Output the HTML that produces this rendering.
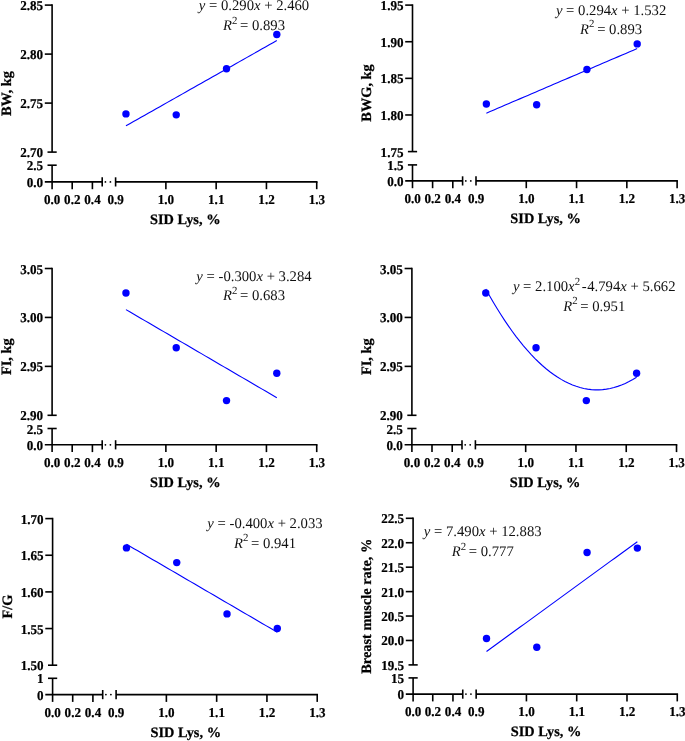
<!DOCTYPE html>
<html><head><meta charset="utf-8"><title>Figure</title>
<style>
html,body{margin:0;padding:0;background:#fff;}
svg{display:block;will-change:transform;text-rendering:geometricPrecision;font-family:"Liberation Serif",serif;}
.ax{stroke:#000;stroke-width:1.6;fill:none;}
.tk{font-weight:bold;font-size:13.5px;fill:#000;stroke:#000;stroke-width:0.22px;}
.tl{font-weight:bold;font-size:14.35px;fill:#000;stroke:#000;stroke-width:0.25px;}
.eq{font-size:14.7px;fill:#111;}
.it{font-style:italic;}
</style></head><body>
<svg width="685" height="741" viewBox="0 0 685 741">
<rect width="685" height="741" fill="#fff"/>
<path d="M52.1 4.3 V152.1" class="ax"/>
<path d="M44.800000000000004 5.1 H52.1" class="ax"/>
<text transform="translate(43.10 10.10) scale(0.97 1)" class="tk" text-anchor="end">2.85</text>
<path d="M44.800000000000004 54.1 H52.1" class="ax"/>
<text transform="translate(43.10 59.10) scale(0.97 1)" class="tk" text-anchor="end">2.80</text>
<path d="M44.800000000000004 103.1 H52.1" class="ax"/>
<text transform="translate(43.10 108.10) scale(0.97 1)" class="tk" text-anchor="end">2.75</text>
<path d="M47.5 152.1 H56.7" class="ax"/>
<text transform="translate(43.10 157.10) scale(0.97 1)" class="tk" text-anchor="end">2.70</text>
<path d="M52.1 165.2 V189.20000000000002" class="ax"/>
<path d="M47.5 165.2 H56.7" class="ax"/>
<text transform="translate(43.10 170.20) scale(0.97 1)" class="tk" text-anchor="end">2.5</text>
<text transform="translate(43.10 186.90) scale(0.97 1)" class="tk" text-anchor="end">0.0</text>
<path d="M44.800000000000004 181.9 H102.2" class="ax"/>
<path d="M72.2 181.9 V189.20000000000002" class="ax"/>
<path d="M92.4 181.9 V189.20000000000002" class="ax"/>
<path d="M102.2 177.3 V186.5" class="ax"/>
<path d="M115.6 177.3 V186.5" class="ax"/>
<circle cx="105.4" cy="181.9" r="0.9" fill="#000"/>
<circle cx="110.4" cy="181.9" r="0.9" fill="#000"/>
<path d="M115.6 181.9 H317.52000000000004" class="ax"/>
<path d="M165.88 181.9 V189.20000000000002" class="ax"/>
<path d="M216.16 181.9 V189.20000000000002" class="ax"/>
<path d="M266.44 181.9 V189.20000000000002" class="ax"/>
<path d="M316.72 181.9 V189.20000000000002" class="ax"/>
<text transform="translate(52.20 203.90) scale(0.97 1)" class="tk" text-anchor="middle">0.0</text>
<text transform="translate(72.30 203.90) scale(0.97 1)" class="tk" text-anchor="middle">0.2</text>
<text transform="translate(92.50 203.90) scale(0.97 1)" class="tk" text-anchor="middle">0.4</text>
<text transform="translate(115.70 203.90) scale(0.97 1)" class="tk" text-anchor="middle">0.9</text>
<text transform="translate(165.98 203.90) scale(0.97 1)" class="tk" text-anchor="middle">1.0</text>
<text transform="translate(216.26 203.90) scale(0.97 1)" class="tk" text-anchor="middle">1.1</text>
<text transform="translate(266.54 203.90) scale(0.97 1)" class="tk" text-anchor="middle">1.2</text>
<text transform="translate(316.82 203.90) scale(0.97 1)" class="tk" text-anchor="middle">1.3</text>
<text x="185.21000000000004" y="224.0" class="tl" text-anchor="middle">SID Lys, %</text>
<text transform="translate(11.00 93.50) rotate(-90)" class="tl" text-anchor="middle">BW, kg</text>
<path d="M125.96 125.84 L129.73 123.70 L133.50 121.57 L137.27 119.44 L141.04 117.31 L144.81 115.18 L148.58 113.05 L152.35 110.92 L156.12 108.78 L159.90 106.65 L163.67 104.52 L167.44 102.39 L171.21 100.26 L174.98 98.13 L178.75 96.00 L182.52 93.86 L186.29 91.73 L190.06 89.60 L193.83 87.47 L197.60 85.34 L201.38 83.21 L205.15 81.07 L208.92 78.94 L212.69 76.81 L216.46 74.68 L220.23 72.55 L224.00 70.42 L227.77 68.29 L231.54 66.15 L235.31 64.02 L239.09 61.89 L242.86 59.76 L246.63 57.63 L250.40 55.50 L254.17 53.37 L257.94 51.23 L261.71 49.10 L265.48 46.97 L269.25 44.84 L273.02 42.71 L276.80 40.58" fill="none" stroke="#0000ff" stroke-width="1.1"/>
<circle cx="125.96" cy="113.88" r="3.7" fill="#0000ff"/>
<circle cx="176.24" cy="114.86" r="3.7" fill="#0000ff"/>
<circle cx="226.52" cy="68.80" r="3.7" fill="#0000ff"/>
<circle cx="276.80" cy="34.50" r="3.7" fill="#0000ff"/>
<text x="254" y="10.3" class="eq" text-anchor="middle"><tspan class="it">y</tspan> = 0.290<tspan class="it">x</tspan> + 2.460</text>
<text x="254" y="30.0" class="eq" text-anchor="middle"><tspan class="it">R</tspan><tspan dy="-6.4" font-size="10.8">2 </tspan><tspan dy="6.4">= 0.893</tspan></text>
<path d="M412.5 4.3 V151.6" class="ax"/>
<path d="M405.2 5.1 H412.5" class="ax"/>
<text transform="translate(403.50 10.10) scale(0.97 1)" class="tk" text-anchor="end">1.95</text>
<path d="M405.2 41.73 H412.5" class="ax"/>
<text transform="translate(403.50 46.73) scale(0.97 1)" class="tk" text-anchor="end">1.90</text>
<path d="M405.2 78.35 H412.5" class="ax"/>
<text transform="translate(403.50 83.35) scale(0.97 1)" class="tk" text-anchor="end">1.85</text>
<path d="M405.2 114.97 H412.5" class="ax"/>
<text transform="translate(403.50 119.97) scale(0.97 1)" class="tk" text-anchor="end">1.80</text>
<path d="M407.9 151.6 H417.1" class="ax"/>
<text transform="translate(403.50 156.60) scale(0.97 1)" class="tk" text-anchor="end">1.75</text>
<path d="M412.5 164.9 V188.20000000000002" class="ax"/>
<path d="M407.9 164.9 H417.1" class="ax"/>
<text transform="translate(403.50 169.90) scale(0.97 1)" class="tk" text-anchor="end">1.5</text>
<text transform="translate(403.50 185.90) scale(0.97 1)" class="tk" text-anchor="end">0.0</text>
<path d="M405.2 180.9 H462.6" class="ax"/>
<path d="M432.6 180.9 V188.20000000000002" class="ax"/>
<path d="M452.8 180.9 V188.20000000000002" class="ax"/>
<path d="M462.6 176.3 V185.5" class="ax"/>
<path d="M476.0 176.3 V185.5" class="ax"/>
<circle cx="465.8" cy="180.9" r="0.9" fill="#000"/>
<circle cx="470.8" cy="180.9" r="0.9" fill="#000"/>
<path d="M476.0 180.9 H677.92" class="ax"/>
<path d="M526.28 180.9 V188.20000000000002" class="ax"/>
<path d="M576.56 180.9 V188.20000000000002" class="ax"/>
<path d="M626.84 180.9 V188.20000000000002" class="ax"/>
<path d="M677.12 180.9 V188.20000000000002" class="ax"/>
<text transform="translate(412.60 202.90) scale(0.97 1)" class="tk" text-anchor="middle">0.0</text>
<text transform="translate(432.70 202.90) scale(0.97 1)" class="tk" text-anchor="middle">0.2</text>
<text transform="translate(452.90 202.90) scale(0.97 1)" class="tk" text-anchor="middle">0.4</text>
<text transform="translate(476.10 202.90) scale(0.97 1)" class="tk" text-anchor="middle">0.9</text>
<text transform="translate(526.38 202.90) scale(0.97 1)" class="tk" text-anchor="middle">1.0</text>
<text transform="translate(576.66 202.90) scale(0.97 1)" class="tk" text-anchor="middle">1.1</text>
<text transform="translate(626.94 202.90) scale(0.97 1)" class="tk" text-anchor="middle">1.2</text>
<text transform="translate(677.22 202.90) scale(0.97 1)" class="tk" text-anchor="middle">1.3</text>
<text x="545.6099999999999" y="223.0" class="tl" text-anchor="middle">SID Lys, %</text>
<text transform="translate(371.40 93.00) rotate(-90)" class="tl" text-anchor="middle">BWG, kg</text>
<path d="M486.36 113.16 L490.13 111.54 L493.90 109.93 L497.67 108.31 L501.44 106.70 L505.21 105.08 L508.98 103.47 L512.75 101.85 L516.52 100.24 L520.30 98.62 L524.07 97.01 L527.84 95.39 L531.61 93.78 L535.38 92.16 L539.15 90.55 L542.92 88.93 L546.69 87.32 L550.46 85.70 L554.23 84.09 L558.00 82.47 L561.78 80.86 L565.55 79.24 L569.32 77.62 L573.09 76.01 L576.86 74.39 L580.63 72.78 L584.40 71.16 L588.17 69.55 L591.94 67.93 L595.71 66.32 L599.49 64.70 L603.26 63.09 L607.03 61.47 L610.80 59.86 L614.57 58.24 L618.34 56.63 L622.11 55.01 L625.88 53.40 L629.65 51.78 L633.42 50.17 L637.20 48.55" fill="none" stroke="#0000ff" stroke-width="1.1"/>
<circle cx="486.36" cy="103.99" r="3.7" fill="#0000ff"/>
<circle cx="536.64" cy="104.72" r="3.7" fill="#0000ff"/>
<circle cx="586.92" cy="69.56" r="3.7" fill="#0000ff"/>
<circle cx="637.20" cy="43.92" r="3.7" fill="#0000ff"/>
<text x="611.1" y="14.5" class="eq" text-anchor="middle"><tspan class="it">y</tspan> = 0.294<tspan class="it">x</tspan> + 1.532</text>
<text x="611.1" y="33.8" class="eq" text-anchor="middle"><tspan class="it">R</tspan><tspan dy="-6.4" font-size="10.8">2 </tspan><tspan dy="6.4">= 0.893</tspan></text>
<path d="M52.1 267.7 V415.3" class="ax"/>
<path d="M44.800000000000004 268.5 H52.1" class="ax"/>
<text transform="translate(43.10 273.50) scale(0.97 1)" class="tk" text-anchor="end">3.05</text>
<path d="M44.800000000000004 317.43 H52.1" class="ax"/>
<text transform="translate(43.10 322.43) scale(0.97 1)" class="tk" text-anchor="end">3.00</text>
<path d="M44.800000000000004 366.37 H52.1" class="ax"/>
<text transform="translate(43.10 371.37) scale(0.97 1)" class="tk" text-anchor="end">2.95</text>
<path d="M47.5 415.3 H56.7" class="ax"/>
<text transform="translate(43.10 420.30) scale(0.97 1)" class="tk" text-anchor="end">2.90</text>
<path d="M52.1 428.5 V452.1" class="ax"/>
<path d="M47.5 428.5 H56.7" class="ax"/>
<text transform="translate(43.10 433.50) scale(0.97 1)" class="tk" text-anchor="end">2.5</text>
<text transform="translate(43.10 449.80) scale(0.97 1)" class="tk" text-anchor="end">0.0</text>
<path d="M44.800000000000004 444.8 H102.2" class="ax"/>
<path d="M72.2 444.8 V452.1" class="ax"/>
<path d="M92.4 444.8 V452.1" class="ax"/>
<path d="M102.2 440.2 V449.40000000000003" class="ax"/>
<path d="M115.6 440.2 V449.40000000000003" class="ax"/>
<circle cx="105.4" cy="444.8" r="0.9" fill="#000"/>
<circle cx="110.4" cy="444.8" r="0.9" fill="#000"/>
<path d="M115.6 444.8 H317.52000000000004" class="ax"/>
<path d="M165.88 444.8 V452.1" class="ax"/>
<path d="M216.16 444.8 V452.1" class="ax"/>
<path d="M266.44 444.8 V452.1" class="ax"/>
<path d="M316.72 444.8 V452.1" class="ax"/>
<text transform="translate(52.20 466.80) scale(0.97 1)" class="tk" text-anchor="middle">0.0</text>
<text transform="translate(72.30 466.80) scale(0.97 1)" class="tk" text-anchor="middle">0.2</text>
<text transform="translate(92.50 466.80) scale(0.97 1)" class="tk" text-anchor="middle">0.4</text>
<text transform="translate(115.70 466.80) scale(0.97 1)" class="tk" text-anchor="middle">0.9</text>
<text transform="translate(165.98 466.80) scale(0.97 1)" class="tk" text-anchor="middle">1.0</text>
<text transform="translate(216.26 466.80) scale(0.97 1)" class="tk" text-anchor="middle">1.1</text>
<text transform="translate(266.54 466.80) scale(0.97 1)" class="tk" text-anchor="middle">1.2</text>
<text transform="translate(316.82 466.80) scale(0.97 1)" class="tk" text-anchor="middle">1.3</text>
<text x="185.21000000000004" y="486.90000000000003" class="tl" text-anchor="middle">SID Lys, %</text>
<text transform="translate(11.00 356.65) rotate(-90)" class="tl" text-anchor="middle">FI, kg</text>
<path d="M125.96 309.60 L129.73 311.81 L133.50 314.01 L137.27 316.21 L141.04 318.41 L144.81 320.61 L148.58 322.82 L152.35 325.02 L156.12 327.22 L159.90 329.42 L163.67 331.62 L167.44 333.83 L171.21 336.03 L174.98 338.23 L178.75 340.43 L182.52 342.63 L186.29 344.84 L190.06 347.04 L193.83 349.24 L197.60 351.44 L201.38 353.64 L205.15 355.85 L208.92 358.05 L212.69 360.25 L216.46 362.45 L220.23 364.65 L224.00 366.86 L227.77 369.06 L231.54 371.26 L235.31 373.46 L239.09 375.66 L242.86 377.87 L246.63 380.07 L250.40 382.27 L254.17 384.47 L257.94 386.67 L261.71 388.88 L265.48 391.08 L269.25 393.28 L273.02 395.48 L276.80 397.68" fill="none" stroke="#0000ff" stroke-width="1.1"/>
<circle cx="125.96" cy="292.97" r="3.7" fill="#0000ff"/>
<circle cx="176.24" cy="347.77" r="3.7" fill="#0000ff"/>
<circle cx="226.52" cy="400.62" r="3.7" fill="#0000ff"/>
<circle cx="276.80" cy="373.22" r="3.7" fill="#0000ff"/>
<text x="254" y="280.9" class="eq" text-anchor="middle"><tspan class="it">y</tspan> = -0.300<tspan class="it">x</tspan> + 3.284</text>
<text x="254" y="300.2" class="eq" text-anchor="middle"><tspan class="it">R</tspan><tspan dy="-6.4" font-size="10.8">2 </tspan><tspan dy="6.4">= 0.683</tspan></text>
<path d="M411.9 267.7 V415.3" class="ax"/>
<path d="M404.59999999999997 268.5 H411.9" class="ax"/>
<text transform="translate(402.90 273.50) scale(0.97 1)" class="tk" text-anchor="end">3.05</text>
<path d="M404.59999999999997 317.43 H411.9" class="ax"/>
<text transform="translate(402.90 322.43) scale(0.97 1)" class="tk" text-anchor="end">3.00</text>
<path d="M404.59999999999997 366.37 H411.9" class="ax"/>
<text transform="translate(402.90 371.37) scale(0.97 1)" class="tk" text-anchor="end">2.95</text>
<path d="M407.29999999999995 415.3 H416.5" class="ax"/>
<text transform="translate(402.90 420.30) scale(0.97 1)" class="tk" text-anchor="end">2.90</text>
<path d="M411.9 428.5 V452.1" class="ax"/>
<path d="M407.29999999999995 428.5 H416.5" class="ax"/>
<text transform="translate(402.90 433.50) scale(0.97 1)" class="tk" text-anchor="end">2.5</text>
<text transform="translate(402.90 449.80) scale(0.97 1)" class="tk" text-anchor="end">0.0</text>
<path d="M404.59999999999997 444.8 H462.0" class="ax"/>
<path d="M432.0 444.8 V452.1" class="ax"/>
<path d="M452.2 444.8 V452.1" class="ax"/>
<path d="M462.0 440.2 V449.40000000000003" class="ax"/>
<path d="M475.4 440.2 V449.40000000000003" class="ax"/>
<circle cx="465.2" cy="444.8" r="0.9" fill="#000"/>
<circle cx="470.2" cy="444.8" r="0.9" fill="#000"/>
<path d="M475.4 444.8 H677.3199999999999" class="ax"/>
<path d="M525.68 444.8 V452.1" class="ax"/>
<path d="M575.96 444.8 V452.1" class="ax"/>
<path d="M626.24 444.8 V452.1" class="ax"/>
<path d="M676.52 444.8 V452.1" class="ax"/>
<text transform="translate(412.00 466.80) scale(0.97 1)" class="tk" text-anchor="middle">0.0</text>
<text transform="translate(432.10 466.80) scale(0.97 1)" class="tk" text-anchor="middle">0.2</text>
<text transform="translate(452.30 466.80) scale(0.97 1)" class="tk" text-anchor="middle">0.4</text>
<text transform="translate(475.50 466.80) scale(0.97 1)" class="tk" text-anchor="middle">0.9</text>
<text transform="translate(525.78 466.80) scale(0.97 1)" class="tk" text-anchor="middle">1.0</text>
<text transform="translate(576.06 466.80) scale(0.97 1)" class="tk" text-anchor="middle">1.1</text>
<text transform="translate(626.34 466.80) scale(0.97 1)" class="tk" text-anchor="middle">1.2</text>
<text transform="translate(676.62 466.80) scale(0.97 1)" class="tk" text-anchor="middle">1.3</text>
<text x="545.01" y="486.90000000000003" class="tl" text-anchor="middle">SID Lys, %</text>
<text transform="translate(370.80 356.65) rotate(-90)" class="tl" text-anchor="middle">FI, kg</text>
<path d="M485.76 289.09 L489.53 295.80 L493.30 302.28 L497.07 308.53 L500.84 314.55 L504.61 320.33 L508.38 325.89 L512.15 331.21 L515.92 336.30 L519.70 341.16 L523.47 345.79 L527.24 350.19 L531.01 354.36 L534.78 358.29 L538.55 362.00 L542.32 365.47 L546.09 368.72 L549.86 371.73 L553.63 374.51 L557.40 377.06 L561.18 379.37 L564.95 381.46 L568.72 383.31 L572.49 384.94 L576.26 386.33 L580.03 387.49 L583.80 388.42 L587.57 389.12 L591.34 389.59 L595.12 389.83 L598.89 389.83 L602.66 389.61 L606.43 389.15 L610.20 388.46 L613.97 387.54 L617.74 386.39 L621.51 385.01 L625.28 383.40 L629.05 381.55 L632.82 379.48 L636.60 377.17" fill="none" stroke="#0000ff" stroke-width="1.1"/>
<circle cx="485.76" cy="292.97" r="3.7" fill="#0000ff"/>
<circle cx="536.04" cy="347.77" r="3.7" fill="#0000ff"/>
<circle cx="586.32" cy="400.62" r="3.7" fill="#0000ff"/>
<circle cx="636.60" cy="373.22" r="3.7" fill="#0000ff"/>
<text x="594.2" y="290.95" class="eq" text-anchor="middle"><tspan class="it">y</tspan> = 2.100<tspan class="it">x</tspan><tspan dy="-5.8" font-size="10.8">2 </tspan><tspan dy="5.8" dx="-0.9">-</tspan><tspan dx="0.5">4.794<tspan class="it">x</tspan> + 5.662</tspan></text>
<text x="594.2" y="310.7" class="eq" text-anchor="middle"><tspan class="it">R</tspan><tspan dy="-6.4" font-size="10.8">2 </tspan><tspan dy="6.4">= 0.951</tspan></text>
<path d="M52.6 517.8000000000001 V665.2" class="ax"/>
<path d="M45.300000000000004 518.6 H52.6" class="ax"/>
<text transform="translate(43.60 523.60) scale(0.97 1)" class="tk" text-anchor="end">1.70</text>
<path d="M45.300000000000004 555.25 H52.6" class="ax"/>
<text transform="translate(43.60 560.25) scale(0.97 1)" class="tk" text-anchor="end">1.65</text>
<path d="M45.300000000000004 591.9 H52.6" class="ax"/>
<text transform="translate(43.60 596.90) scale(0.97 1)" class="tk" text-anchor="end">1.60</text>
<path d="M45.300000000000004 628.55 H52.6" class="ax"/>
<text transform="translate(43.60 633.55) scale(0.97 1)" class="tk" text-anchor="end">1.55</text>
<path d="M48.0 665.2 H57.2" class="ax"/>
<text transform="translate(43.60 670.20) scale(0.97 1)" class="tk" text-anchor="end">1.50</text>
<path d="M52.6 678.3 V701.9" class="ax"/>
<path d="M48.0 678.3 H57.2" class="ax"/>
<text transform="translate(43.60 683.30) scale(0.97 1)" class="tk" text-anchor="end">1</text>
<text transform="translate(43.60 699.60) scale(0.97 1)" class="tk" text-anchor="end">0</text>
<path d="M45.300000000000004 694.6 H102.7" class="ax"/>
<path d="M72.7 694.6 V701.9" class="ax"/>
<path d="M92.9 694.6 V701.9" class="ax"/>
<path d="M102.7 690.0 V699.2" class="ax"/>
<path d="M116.1 690.0 V699.2" class="ax"/>
<circle cx="105.9" cy="694.6" r="0.9" fill="#000"/>
<circle cx="110.9" cy="694.6" r="0.9" fill="#000"/>
<path d="M116.1 694.6 H318.02000000000004" class="ax"/>
<path d="M166.38 694.6 V701.9" class="ax"/>
<path d="M216.66 694.6 V701.9" class="ax"/>
<path d="M266.94 694.6 V701.9" class="ax"/>
<path d="M317.22 694.6 V701.9" class="ax"/>
<text transform="translate(52.70 716.60) scale(0.97 1)" class="tk" text-anchor="middle">0.0</text>
<text transform="translate(72.80 716.60) scale(0.97 1)" class="tk" text-anchor="middle">0.2</text>
<text transform="translate(93.00 716.60) scale(0.97 1)" class="tk" text-anchor="middle">0.4</text>
<text transform="translate(116.20 716.60) scale(0.97 1)" class="tk" text-anchor="middle">0.9</text>
<text transform="translate(166.48 716.60) scale(0.97 1)" class="tk" text-anchor="middle">1.0</text>
<text transform="translate(216.76 716.60) scale(0.97 1)" class="tk" text-anchor="middle">1.1</text>
<text transform="translate(267.04 716.60) scale(0.97 1)" class="tk" text-anchor="middle">1.2</text>
<text transform="translate(317.32 716.60) scale(0.97 1)" class="tk" text-anchor="middle">1.3</text>
<text x="185.71000000000004" y="736.7" class="tl" text-anchor="middle">SID Lys, %</text>
<text transform="translate(11.50 606.60) rotate(-90)" class="tl" text-anchor="middle">F/G</text>
<path d="M126.46 544.26 L130.23 546.45 L134.00 548.65 L137.77 550.85 L141.54 553.05 L145.31 555.25 L149.08 557.45 L152.85 559.65 L156.62 561.85 L160.40 564.05 L164.17 566.25 L167.94 568.44 L171.71 570.64 L175.48 572.84 L179.25 575.04 L183.02 577.24 L186.79 579.44 L190.56 581.64 L194.33 583.84 L198.10 586.04 L201.88 588.24 L205.65 590.43 L209.42 592.63 L213.19 594.83 L216.96 597.03 L220.73 599.23 L224.50 601.43 L228.27 603.63 L232.04 605.83 L235.81 608.03 L239.59 610.23 L243.36 612.42 L247.13 614.62 L250.90 616.82 L254.67 619.02 L258.44 621.22 L262.21 623.42 L265.98 625.62 L269.75 627.82 L273.52 630.02 L277.30 632.22" fill="none" stroke="#0000ff" stroke-width="1.1"/>
<circle cx="126.46" cy="547.92" r="3.7" fill="#0000ff"/>
<circle cx="176.74" cy="562.58" r="3.7" fill="#0000ff"/>
<circle cx="227.02" cy="613.89" r="3.7" fill="#0000ff"/>
<circle cx="277.30" cy="628.55" r="3.7" fill="#0000ff"/>
<text x="265" y="528.1" class="eq" text-anchor="middle"><tspan class="it">y</tspan> = -0.400<tspan class="it">x</tspan> + 2.033</text>
<text x="265" y="547.6" class="eq" text-anchor="middle"><tspan class="it">R</tspan><tspan dy="-6.4" font-size="10.8">2 </tspan><tspan dy="6.4">= 0.941</tspan></text>
<path d="M413.1 517.5 V664.9" class="ax"/>
<path d="M405.8 518.3 H413.1" class="ax"/>
<text transform="translate(404.10 523.30) scale(0.97 1)" class="tk" text-anchor="end">22.5</text>
<path d="M405.8 542.73 H413.1" class="ax"/>
<text transform="translate(404.10 547.73) scale(0.97 1)" class="tk" text-anchor="end">22.0</text>
<path d="M405.8 567.17 H413.1" class="ax"/>
<text transform="translate(404.10 572.17) scale(0.97 1)" class="tk" text-anchor="end">21.5</text>
<path d="M405.8 591.6 H413.1" class="ax"/>
<text transform="translate(404.10 596.60) scale(0.97 1)" class="tk" text-anchor="end">21.0</text>
<path d="M405.8 616.03 H413.1" class="ax"/>
<text transform="translate(404.10 621.03) scale(0.97 1)" class="tk" text-anchor="end">20.5</text>
<path d="M405.8 640.47 H413.1" class="ax"/>
<text transform="translate(404.10 645.47) scale(0.97 1)" class="tk" text-anchor="end">20.0</text>
<path d="M408.5 664.9 H417.70000000000005" class="ax"/>
<text transform="translate(404.10 669.90) scale(0.97 1)" class="tk" text-anchor="end">19.5</text>
<path d="M413.1 677.9 V701.4" class="ax"/>
<path d="M408.5 677.9 H417.70000000000005" class="ax"/>
<text transform="translate(404.10 682.90) scale(0.97 1)" class="tk" text-anchor="end">15</text>
<text transform="translate(404.10 699.10) scale(0.97 1)" class="tk" text-anchor="end">0</text>
<path d="M405.8 694.1 H462.75000000000006" class="ax"/>
<path d="M432.75000000000006 694.1 V701.4" class="ax"/>
<path d="M452.95000000000005 694.1 V701.4" class="ax"/>
<path d="M462.75000000000006 689.5 V698.7" class="ax"/>
<path d="M476.15000000000003 689.5 V698.7" class="ax"/>
<circle cx="465.95000000000005" cy="694.1" r="0.9" fill="#000"/>
<circle cx="470.95000000000005" cy="694.1" r="0.9" fill="#000"/>
<path d="M476.15000000000003 694.1 H678.0699999999999" class="ax"/>
<path d="M526.4300000000001 694.1 V701.4" class="ax"/>
<path d="M576.71 694.1 V701.4" class="ax"/>
<path d="M626.99 694.1 V701.4" class="ax"/>
<path d="M677.27 694.1 V701.4" class="ax"/>
<text transform="translate(413.20 716.10) scale(0.97 1)" class="tk" text-anchor="middle">0.0</text>
<text transform="translate(432.85 716.10) scale(0.97 1)" class="tk" text-anchor="middle">0.2</text>
<text transform="translate(453.05 716.10) scale(0.97 1)" class="tk" text-anchor="middle">0.4</text>
<text transform="translate(476.25 716.10) scale(0.97 1)" class="tk" text-anchor="middle">0.9</text>
<text transform="translate(526.53 716.10) scale(0.97 1)" class="tk" text-anchor="middle">1.0</text>
<text transform="translate(576.81 716.10) scale(0.97 1)" class="tk" text-anchor="middle">1.1</text>
<text transform="translate(627.09 716.10) scale(0.97 1)" class="tk" text-anchor="middle">1.2</text>
<text transform="translate(677.37 716.10) scale(0.97 1)" class="tk" text-anchor="middle">1.3</text>
<text x="545.9849999999999" y="736.2" class="tl" text-anchor="middle">SID Lys, %</text>
<text transform="translate(370.50 606.20) rotate(-90)" class="tl" text-anchor="middle">Breast muscle rate, %</text>
<path d="M486.51 651.52 L490.28 648.78 L494.05 646.03 L497.82 643.29 L501.59 640.54 L505.36 637.79 L509.13 635.05 L512.90 632.30 L516.67 629.56 L520.45 626.81 L524.22 624.07 L527.99 621.32 L531.76 618.58 L535.53 615.83 L539.30 613.09 L543.07 610.34 L546.84 607.60 L550.61 604.85 L554.38 602.11 L558.15 599.36 L561.93 596.62 L565.70 593.87 L569.47 591.13 L573.24 588.38 L577.01 585.64 L580.78 582.89 L584.55 580.15 L588.32 577.40 L592.09 574.66 L595.87 571.91 L599.64 569.17 L603.41 566.42 L607.18 563.68 L610.95 560.93 L614.72 558.19 L618.49 555.44 L622.26 552.70 L626.03 549.95 L629.80 547.21 L633.58 544.46 L637.35 541.72" fill="none" stroke="#0000ff" stroke-width="1.1"/>
<circle cx="486.51" cy="638.51" r="3.7" fill="#0000ff"/>
<circle cx="536.79" cy="647.31" r="3.7" fill="#0000ff"/>
<circle cx="587.07" cy="552.51" r="3.7" fill="#0000ff"/>
<circle cx="637.35" cy="548.11" r="3.7" fill="#0000ff"/>
<text x="482.7" y="536.2" class="eq" text-anchor="middle"><tspan class="it">y</tspan> = 7.490<tspan class="it">x</tspan> + 12.883</text>
<text x="482.7" y="556.0" class="eq" text-anchor="middle"><tspan class="it">R</tspan><tspan dy="-6.4" font-size="10.8">2 </tspan><tspan dy="6.4">= 0.777</tspan></text>
</svg>
</body></html>
